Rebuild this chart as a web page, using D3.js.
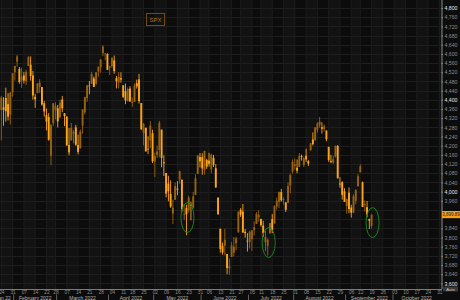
<!DOCTYPE html>
<html>
<head>
<meta charset="utf-8">
<script src="https://cdn.jsdelivr.net/npm/d3@7"></script>
<style>
body { margin: 0; background: #0c0c0c; }
svg { display: block; font-family: "Liberation Sans", Arial, sans-serif; }
</style>
</head>
<body>
<svg id="chart" width="460" height="300"></svg>
<script>
// daily candles: date, open, high, low, close
const ohlc = [
    ["2022-01-21",4471,4495,4395,4398], ["2022-01-24",4356,4417,4223,4410], ["2022-01-25",4367,4411,4287,4356],
    ["2022-01-26",4408,4453,4305,4350], ["2022-01-27",4381,4429,4310,4327], ["2022-01-28",4336,4433,4292,4432],
    ["2022-01-31",4432,4517,4414,4516], ["2022-02-01",4520,4550,4484,4547], ["2022-02-02",4566,4595,4544,4589],
    ["2022-02-03",4535,4543,4470,4477], ["2022-02-04",4483,4540,4452,4501], ["2022-02-07",4506,4522,4471,4484],
    ["2022-02-08",4480,4531,4465,4522], ["2022-02-09",4547,4590,4547,4587], ["2022-02-10",4553,4589,4484,4504],
    ["2022-02-11",4506,4526,4401,4419], ["2022-02-14",4413,4426,4365,4402], ["2022-02-15",4429,4473,4429,4471],
    ["2022-02-16",4456,4490,4430,4475], ["2022-02-17",4456,4456,4374,4380], ["2022-02-18",4385,4395,4327,4349],
    ["2022-02-22",4333,4362,4267,4305], ["2022-02-23",4325,4342,4222,4226], ["2022-02-24",4156,4295,4115,4289],
    ["2022-02-25",4298,4385,4287,4385], ["2022-02-28",4354,4389,4315,4374], ["2022-03-01",4363,4378,4280,4306],
    ["2022-03-02",4323,4401,4323,4387], ["2022-03-03",4401,4417,4346,4363], ["2022-03-04",4342,4342,4285,4329],
    ["2022-03-07",4327,4327,4200,4201], ["2022-03-08",4203,4277,4158,4171], ["2022-03-09",4223,4299,4223,4278],
    ["2022-03-10",4253,4268,4210,4260], ["2022-03-11",4280,4291,4200,4204], ["2022-03-14",4203,4248,4162,4173],
    ["2022-03-15",4189,4271,4188,4262], ["2022-03-16",4288,4358,4252,4358], ["2022-03-17",4345,4413,4336,4412],
    ["2022-03-18",4407,4465,4391,4463], ["2022-03-21",4462,4482,4424,4461], ["2022-03-22",4469,4522,4469,4512],
    ["2022-03-23",4493,4501,4456,4456], ["2022-03-24",4470,4521,4465,4520], ["2022-03-25",4523,4546,4501,4543],
    ["2022-03-28",4541,4576,4518,4576], ["2022-03-29",4603,4637,4590,4632], ["2022-03-30",4599,4603,4572,4602],
    ["2022-03-31",4600,4603,4530,4530], ["2022-04-01",4540,4549,4508,4546], ["2022-04-04",4548,4584,4539,4583],
    ["2022-04-05",4572,4593,4514,4525], ["2022-04-06",4494,4504,4450,4481], ["2022-04-07",4475,4521,4450,4500],
    ["2022-04-08",4494,4520,4475,4488], ["2022-04-11",4463,4464,4408,4413], ["2022-04-12",4438,4471,4381,4397],
    ["2022-04-13",4394,4454,4393,4447], ["2022-04-14",4449,4460,4391,4393], ["2022-04-18",4386,4410,4370,4392],
    ["2022-04-19",4391,4471,4391,4462], ["2022-04-20",4472,4488,4449,4459], ["2022-04-21",4489,4513,4384,4394],
    ["2022-04-22",4386,4386,4268,4272], ["2022-04-25",4255,4299,4201,4296], ["2022-04-26",4278,4278,4175,4175],
    ["2022-04-27",4187,4241,4163,4184], ["2022-04-28",4223,4308,4189,4288], ["2022-04-29",4254,4270,4124,4132],
    ["2022-05-02",4131,4170,4063,4155], ["2022-05-03",4160,4200,4147,4175], ["2022-05-04",4181,4308,4149,4300],
    ["2022-05-05",4270,4270,4106,4147], ["2022-05-06",4128,4158,4068,4123], ["2022-05-09",4081,4081,3975,3991],
    ["2022-05-10",4035,4069,3958,4001], ["2022-05-11",3990,4049,3929,3935], ["2022-05-12",3904,3965,3859,3930],
    ["2022-05-13",3964,4039,3964,4024], ["2022-05-16",4013,4046,3984,4008], ["2022-05-17",4052,4091,4034,4089],
    ["2022-05-18",4052,4052,3912,3924], ["2022-05-19",3899,3946,3877,3901], ["2022-05-20",3928,3943,3810,3901],
    ["2022-05-23",3919,3982,3909,3974], ["2022-05-24",3943,3956,3875,3941], ["2022-05-25",3930,3999,3925,3979],
    ["2022-05-26",3985,4075,3985,4058], ["2022-05-27",4077,4158,4077,4158], ["2022-05-31",4151,4168,4105,4132],
    ["2022-06-01",4150,4167,4074,4101], ["2022-06-02",4095,4178,4074,4177], ["2022-06-03",4138,4143,4099,4109],
    ["2022-06-06",4135,4169,4109,4121], ["2022-06-07",4096,4165,4080,4161], ["2022-06-08",4147,4160,4107,4116],
    ["2022-06-09",4102,4119,4017,4018], ["2022-06-10",3974,3974,3900,3901], ["2022-06-13",3838,3838,3734,3750],
    ["2022-06-14",3764,3778,3725,3735], ["2022-06-15",3764,3838,3722,3790], ["2022-06-16",3728,3728,3640,3667],
    ["2022-06-17",3666,3708,3637,3675], ["2022-06-21",3715,3780,3715,3765], ["2022-06-22",3734,3802,3718,3760],
    ["2022-06-23",3775,3803,3744,3796], ["2022-06-24",3822,3914,3822,3912], ["2022-06-27",3921,3928,3890,3900],
    ["2022-06-28",3913,3946,3820,3822], ["2022-06-29",3825,3837,3799,3819], ["2022-06-30",3786,3819,3739,3785],
    ["2022-07-01",3781,3830,3752,3825], ["2022-07-05",3793,3832,3742,3831], ["2022-07-06",3832,3871,3809,3845],
    ["2022-07-07",3859,3911,3859,3903], ["2022-07-08",3888,3919,3869,3899], ["2022-07-11",3881,3881,3847,3854],
    ["2022-07-12",3852,3873,3802,3819], ["2022-07-13",3780,3829,3741,3802], ["2022-07-14",3764,3796,3722,3790],
    ["2022-07-15",3818,3864,3817,3863], ["2022-07-18",3880,3902,3819,3831], ["2022-07-19",3861,3940,3861,3937],
    ["2022-07-20",3935,3974,3922,3960], ["2022-07-21",3955,3999,3928,3999], ["2022-07-22",3998,4012,3956,3962],
    ["2022-07-25",3966,3975,3943,3967], ["2022-07-26",3953,3953,3911,3921], ["2022-07-27",3951,4040,3951,4024],
    ["2022-07-28",4026,4079,3993,4072], ["2022-07-29",4087,4140,4079,4130], ["2022-08-01",4112,4145,4096,4119],
    ["2022-08-02",4104,4140,4080,4091], ["2022-08-03",4108,4168,4108,4155], ["2022-08-04",4155,4161,4135,4152],
    ["2022-08-05",4116,4152,4107,4145], ["2022-08-08",4156,4187,4129,4140], ["2022-08-09",4133,4137,4112,4122],
    ["2022-08-10",4181,4211,4177,4210], ["2022-08-11",4227,4258,4201,4207], ["2022-08-12",4225,4280,4220,4280],
    ["2022-08-15",4269,4302,4257,4297], ["2022-08-16",4290,4325,4278,4305], ["2022-08-17",4280,4302,4253,4274],
    ["2022-08-18",4273,4293,4262,4284], ["2022-08-19",4266,4266,4219,4228], ["2022-08-22",4195,4195,4130,4138],
    ["2022-08-23",4133,4160,4124,4129], ["2022-08-24",4127,4157,4120,4141], ["2022-08-25",4153,4201,4148,4199],
    ["2022-08-26",4199,4203,4058,4058], ["2022-08-29",4035,4063,4017,4031], ["2022-08-30",4041,4045,3965,3986],
    ["2022-08-31",4001,4015,3955,3955], ["2022-09-01",3937,3970,3904,3967], ["2022-09-02",3995,4018,3906,3924],
    ["2022-09-06",3931,3943,3887,3908], ["2022-09-07",3909,3988,3906,3980], ["2022-09-08",3960,4011,3945,4006],
    ["2022-09-09",4023,4077,4023,4067], ["2022-09-12",4084,4119,4084,4110], ["2022-09-13",4041,4044,3933,3933],
    ["2022-09-14",3941,3962,3913,3946], ["2022-09-15",3932,3959,3888,3901], ["2022-09-16",3881,3881,3837,3873],
    ["2022-09-19",3850,3900,3839,3899.89]
];

const calStart = "2022-01-21";
const calEnd = "2022-10-31";
const holidays = ["2022-02-21", "2022-04-15", "2022-05-30", "2022-06-20", "2022-07-04", "2022-09-05"];
const yTicks = [3600,3640,3680,3720,3760,3800,3840,3880,3920,3960,4000,4040,4080,4120,4160,4200,
                4240,4280,4320,4360,4400,4440,4480,4520,4560,4600,4640,4680,4720,4760,4800];
const yMajor = [3600, 4000, 4400, 4800];
const monthLabels = ["Jan 22", "February 2022", "March 2022", "April 2022", "May 2022", "June 2022",
                     "July 2022", "August 2022", "September 2022", "October 2022"];
const ticker = "SPX";
// green rings: date and price they sit on
const rings = [["2022-05-20", 3887], ["2022-07-14", 3778], ["2022-09-19", 3865]];

const fmt = d3.timeFormat("%Y-%m-%d");
const parse = d3.timeParse("%Y-%m-%d");
const plotR = 442, plotB = 289;

// trading calendar: weekdays that are not holidays
let days = d3.timeDay.range(parse(calStart), d3.timeDay.offset(parse(calEnd), 1))
    .filter(d => d.getDay() % 6 != 0 && !holidays.includes(fmt(d)));
let dayKeys = days.map(fmt);

const x = d3.scalePoint().domain(dayKeys).range([-0.96, 439.3]);
const y = d3.scaleLinear().domain([3600, 4800]).range([283.4, 8]);

// first trading day of each week
let weekStarts = days.filter((d, i) => i == 0 || +d3.timeMonday.floor(d) != +d3.timeMonday.floor(days[i - 1]))
    .map(fmt);

const svg = d3.select("#chart");
svg.append("rect").attr("width", 460).attr("height", 300).attr("fill", "#0c0c0c");

svg.append("clipPath").attr("id", "plot")
    .append("rect").attr("width", plotR).attr("height", plotB);

let grid = svg.append("g").attr("clip-path", "url(#plot)");

// alternate week shading
let bands = weekStarts.map((k, i) => [x(k), i + 1 < weekStarts.length ? x(weekStarts[i + 1]) : plotR]);
grid.selectAll("rect.band")
    .data(bands)
    .join("rect")
    .attr("class", "band")
    .attr("x", d => d[0])
    .attr("width", d => d[1] - d[0])
    .attr("y", 0)
    .attr("height", plotB)
    .attr("fill", (d, i) => i % 2 ? "#121212" : "#0c0c0c");

grid.selectAll("line.hg")
    .data(yTicks)
    .join("line")
    .attr("class", "hg")
    .attr("x1", 0).attr("x2", plotR)
    .attr("y1", d => Math.round(y(d)) + 0.5).attr("y2", d => Math.round(y(d)) + 0.5)
    .attr("stroke", "#1e1e1e");

grid.selectAll("line.vg")
    .data(weekStarts)
    .join("line")
    .attr("class", "vg")
    .attr("x1", d => x(d)).attr("x2", d => x(d))
    .attr("y1", 0).attr("y2", plotB)
    .attr("stroke", "#1c1c1c");

// candles
let candles = svg.append("g").attr("clip-path", "url(#plot)")
    .selectAll("g")
    .data(ohlc)
    .join("g");

const upCol = "#98620f", downCol = "#fba41c";

candles.append("rect")
    .attr("x", d => x(d[0]) - 0.45)
    .attr("width", 0.9)
    .attr("y", d => y(d[2]))
    .attr("height", d => Math.max(0.5, y(d[3]) - y(d[2])))
    .attr("fill", d => d[4] >= d[1] ? upCol : downCol);

candles.append("rect")
    .attr("x", d => x(d[0]) - 0.95)
    .attr("width", 1.9)
    .attr("y", d => y(Math.max(d[1], d[4])))
    .attr("height", d => Math.max(0.8, Math.abs(y(d[1]) - y(d[4]))))
    .attr("fill", d => d[4] >= d[1] ? upCol : downCol);

// rings
svg.append("g")
    .selectAll("ellipse")
    .data(rings)
    .join("ellipse")
    .attr("cx", d => x(d[0]) + 1)
    .attr("cy", d => y(d[1]))
    .attr("rx", 6.5)
    .attr("ry", 15)
    .attr("fill", "none")
    .attr("stroke", "#1f8a1f")
    .attr("stroke-width", 0.9);

// ticker box
let tk = svg.append("g").attr("transform", "translate(146.5,13.5)");
tk.append("rect").attr("width", 18).attr("height", 12)
    .attr("fill", "none").attr("stroke", "#6e4a10").attr("stroke-width", 1);
tk.append("text").attr("x", 9).attr("y", 8.2).attr("text-anchor", "middle")
    .attr("font-size", 6).attr("fill", "#b07418").text(ticker);

// last price, the tag hides the axis label under it
let last = ohlc[ohlc.length - 1];
let lastY = y(last[4]);

// right axis
let yAxis = svg.append("g")
    .attr("transform", "translate(" + (plotR - 0.5) + ",0)")
    .call(d3.axisRight(y).tickValues(yTicks.filter(v => Math.abs(y(v) - lastY) > 5))
        .tickSize(1.5).tickPadding(1.5).tickFormat(d3.format(",")));
yAxis.select(".domain").attr("stroke", "#8a8a8a").attr("d", "M0.5,0V" + plotB);
yAxis.selectAll(".tick line").attr("stroke", "#8a8a8a");
yAxis.selectAll(".tick text")
    .attr("font-size", 5.2)
    .attr("font-family", "Liberation Sans, Arial, sans-serif")
    .attr("fill", d => yMajor.includes(d) ? "#e6e6e6" : "#8c8c8c");

let tag = svg.append("g").attr("transform", "translate(" + plotR + "," + lastY + ")");
tag.append("rect").attr("x", 0).attr("y", -3.6).attr("width", 18).attr("height", 7.2).attr("fill", "#f5a11c");
tag.append("text").attr("x", 9).attr("y", 1.7).attr("text-anchor", "middle")
    .attr("font-size", 4.5).attr("fill", "#1a1a1a")
    .text(d3.format(",.2f")(last[4]));

// scale button at bottom right
let auto = svg.append("g").attr("transform", "translate(443,286.6)");
auto.append("rect").attr("width", 15).attr("height", 4.8).attr("fill", "#3a3a3a");
auto.append("text").attr("x", 7.5).attr("y", 3.9).attr("text-anchor", "middle")
    .attr("font-size", 4.2).attr("fill", "#c8c8c8").text("Auto");

// bottom axis
let visibleWeeks = weekStarts.filter(k => x(k) >= 0);
let xAxis = svg.append("g")
    .attr("transform", "translate(0," + plotB + ")")
    .call(d3.axisBottom(x).tickValues(visibleWeeks).tickSize(1.5).tickPadding(0.5)
        .tickFormat(k => d3.timeFormat("%d")(parse(k))));
xAxis.select(".domain").attr("stroke", "#7a7a7a").attr("d", "M0,0.5H" + plotR);
xAxis.selectAll(".tick line").attr("stroke", "#7a7a7a");
xAxis.selectAll(".tick text")
    .attr("font-size", 4.8)
    .attr("font-family", "Liberation Sans, Arial, sans-serif")
    .attr("fill", "#8c8c8c");

// month row
let months = d3.groups(days, d => d.getMonth()).map(g => {
    let a = x(fmt(g[1][0])) - 1.13, b = x(fmt(g[1][g[1].length - 1])) + 1.13;
    return [a, b];
});
let monthG = svg.append("g");
monthG.selectAll("line")
    .data(months.slice(1))
    .join("line")
    .attr("x1", d => d[0]).attr("x2", d => d[0])
    .attr("y1", 294.5).attr("y2", 300)
    .attr("stroke", "#8a8a8a").attr("stroke-width", 0.7);
monthG.selectAll("text")
    .data(months)
    .join("text")
    .attr("x", (d, i) => i == 0 ? d[1] - 3 : (Math.max(d[0], 0) + Math.min(d[1], plotR)) / 2)
    .attr("y", 299.6)
    .attr("text-anchor", (d, i) => i == 0 ? "end" : "middle")
    .attr("font-size", 5)
    .attr("fill", "#b4b4b4")
    .text((d, i) => monthLabels[i]);
</script>
</body>
</html>
